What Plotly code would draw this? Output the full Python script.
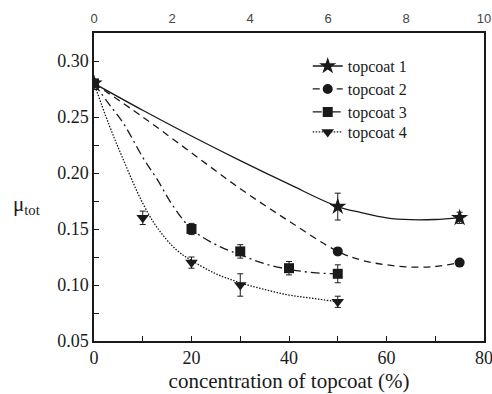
import plotly.graph_objects as go

# Measured friction coefficient per topcoat concentration (%)
conc_1 = [0, 50, 75]
mu_1 = [0.28, 0.17, 0.16]
err_1 = [0.0, 0.012, 0.005]

conc_2 = [0, 50, 75]
mu_2 = [0.28, 0.13, 0.12]
err_2 = [0.0, 0.003, 0.002]

conc_3 = [0, 20, 30, 40, 50]
mu_3 = [0.28, 0.15, 0.13, 0.115, 0.11]
err_3 = [0.0, 0.005, 0.006, 0.006, 0.008]

conc_4 = [0, 10, 20, 30, 50]
mu_4 = [0.28, 0.16, 0.12, 0.10, 0.085]
err_4 = [0.0, 0.006, 0.005, 0.01, 0.005]

# Smoothed trend curves (sampled)
fit_x_1 = [0, 10, 20, 30, 40, 50, 55, 60, 65, 70, 75]
fit_y_1 = [0.280, 0.256, 0.233, 0.211, 0.190, 0.170, 0.1645, 0.160, 0.1583, 0.1585, 0.160]

fit_x_2 = [0, 10, 20, 30, 40, 50, 55, 60, 65, 70, 75]
fit_y_2 = [0.280, 0.250, 0.218, 0.186, 0.157, 0.130, 0.122, 0.118, 0.116, 0.1165, 0.120]

fit_x_3 = [0, 3, 6, 10, 13, 16, 20, 25, 30, 35, 40, 45, 50]
fit_y_3 = [0.280, 0.262, 0.2446, 0.214, 0.194, 0.172, 0.150, 0.136, 0.127, 0.119, 0.114, 0.111, 0.110]

fit_x_4 = [0, 3, 6, 10, 13, 17, 20, 25, 30, 35, 40, 45, 50]
fit_y_4 = [0.280, 0.244, 0.212, 0.173, 0.151, 0.131, 0.122, 0.110, 0.102, 0.096, 0.091, 0.088, 0.085]

names = ["topcoat 1", "topcoat 2", "topcoat 3", "topcoat 4"]

INK = "#1a1a1a"
SERIF = "Liberation Serif, Times New Roman, serif"
SANS = "Liberation Sans, Arial, sans-serif"

series = [
    (conc_1, mu_1, err_1, fit_x_1, fit_y_1, "solid", "star", 13),
    (conc_2, mu_2, err_2, fit_x_2, fit_y_2, "7px,5px", "circle", 10),
    (conc_3, mu_3, err_3, fit_x_3, fit_y_3, "9px,4px,2px,4px", "square", 10),
    (conc_4, mu_4, err_4, fit_x_4, fit_y_4, "1.5px,1.5px", "triangle-down", 11),
]

fig = go.Figure()

draw_order = [0, 1, 3, 2]
for i in draw_order:
    cx, cy, ce, fx, fy, dash, sym, size = series[i]
    # trend curve
    fig.add_trace(go.Scatter(
        x=fx, y=fy, mode="lines", line=dict(color=INK, width=1.3, dash=dash, shape="spline"),
        showlegend=False, hoverinfo="skip",
    ))
    # measured points with error bars
    fig.add_trace(go.Scatter(
        x=cx, y=cy, mode="markers",
        marker=dict(symbol=sym, size=size, color=INK),
        error_y=dict(type="data", array=ce, color=INK, thickness=1, width=3),
        showlegend=False,
    ))

# legend entries (line style + marker), one compact legend per row;
# attached to the top axis so that axis is drawn
legend_ids = ["legend", "legend2", "legend3", "legend4"]
for i in range(4):
    cx, cy, ce, fx, fy, dash, sym, size = series[i]
    fig.add_trace(go.Scatter(
        x=[None], y=[None], mode="lines+markers", name=names[i],
        line=dict(color=INK, width=1.3, dash=dash),
        marker=dict(symbol=sym, size=size, color=INK),
        xaxis="x2", legend=legend_ids[i],
    ))

row_y = [0.8925, 0.818, 0.7435, 0.6785]
legend_style = dict(
    x=0.548, xanchor="left", yanchor="middle",
    bgcolor="rgba(0,0,0,0)", font=dict(family=SERIF, size=16, color=INK),
)

fig.update_layout(
    width=492, height=394,
    margin=dict(l=94, r=8, t=33, b=53, autoexpand=False),
    paper_bgcolor="white", plot_bgcolor="white",
    font=dict(family=SERIF, color=INK),
    showlegend=True,
    legend=dict(y=row_y[0], **legend_style),
    legend2=dict(y=row_y[1], **legend_style),
    legend3=dict(y=row_y[2], **legend_style),
    legend4=dict(y=row_y[3], **legend_style),
    xaxis=dict(
        range=[0, 80], tick0=0, dtick=20, ticks="inside", ticklen=5, tickwidth=1.2,
        tickcolor=INK, showline=True, linecolor=INK, linewidth=1.5, mirror=True,
        showgrid=False, zeroline=False, automargin=False, ticklabeloverflow="allow",
        tickfont=dict(family=SERIF, size=18, color=INK),
        minor=dict(dtick=10, ticks="inside", ticklen=5, tickwidth=1.2, tickcolor=INK),
        title=dict(text="concentration of topcoat (%)", font=dict(family=SERIF, size=21, color=INK), standoff=6),
    ),
    xaxis2=dict(
        range=[0, 10], overlaying="x", side="top", anchor="y", dtick=2, tick0=0,
        showline=False, showgrid=False, zeroline=False, ticks="", ticklen=0,
        ticklabelstandoff=6, automargin=False, ticklabeloverflow="allow",
        tickfont=dict(family=SANS, size=13, color="#444444"),
    ),
    yaxis=dict(
        range=[0.05, 0.325], tick0=0.05, dtick=0.05, tickformat=".2f",
        ticks="inside", ticklen=5, tickwidth=1.2, tickcolor=INK,
        showline=True, linecolor=INK, linewidth=1.5, mirror=True,
        showgrid=False, zeroline=False, automargin=False,
        tickfont=dict(family=SERIF, size=18, color=INK),
        minor=dict(dtick=0.025, ticks="inside", ticklen=5, tickwidth=1.2, tickcolor=INK),
    ),
)

fig.add_annotation(
    text="μ<sub>tot</sub>", xref="paper", yref="paper", x=-0.172, y=0.44,
    xanchor="center", yanchor="middle", showarrow=False,
    font=dict(family=SERIF, size=21, color=INK),
)

fig.write_html("out.html")
